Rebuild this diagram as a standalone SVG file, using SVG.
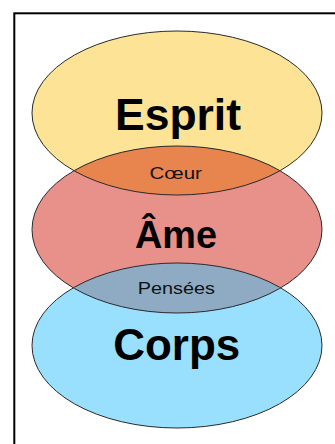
<svg xmlns="http://www.w3.org/2000/svg" width="335" height="444" viewBox="0 0 335 444">
<style>
.big{font-family:"Liberation Sans",Arial,Helvetica,sans-serif;font-weight:bold;font-size:44px;fill:#000;text-anchor:middle}
.small{font-family:"Liberation Sans",Arial,Helvetica,sans-serif;font-size:17px;fill:#111;text-anchor:middle}
.outline{fill:none;stroke:#2a2a2a;stroke-width:1}
</style>
<defs>
<clipPath id="clipEsprit"><ellipse cx="177" cy="113" rx="145" ry="82"/></clipPath>
<clipPath id="clipCorps"><ellipse cx="177" cy="345.5" rx="145" ry="82.5"/></clipPath>
</defs>
<rect x="14.3" y="13.3" width="340" height="450" fill="#fff" stroke="#000" stroke-width="2"/>
<g id="esprit">
<ellipse cx="177" cy="113" rx="145" ry="82" fill="#FCE396"/>
</g>
<g id="ame">
<ellipse cx="177" cy="229.5" rx="145" ry="83.5" fill="#E8908A"/>
</g>
<g id="corps">
<ellipse cx="177" cy="345.5" rx="145" ry="82.5" fill="#99E0FF"/>
</g>
<g id="coeur">
<ellipse cx="177" cy="229.5" rx="145" ry="83.5" fill="#E8854F" clip-path="url(#clipEsprit)"/>
</g>
<g id="pensees">
<ellipse cx="177" cy="229.5" rx="145" ry="83.5" fill="#8EABC3" clip-path="url(#clipCorps)"/>
</g>
<g id="outlines">
<ellipse class="outline" cx="177" cy="113" rx="145" ry="82"/>
<ellipse class="outline" cx="177" cy="229.5" rx="145" ry="83.5"/>
<ellipse class="outline" cx="177" cy="345.5" rx="145" ry="82.5"/>
</g>
<g id="labels">
<text class="big" x="178" y="129.5" textLength="126" lengthAdjust="spacingAndGlyphs">Esprit</text>
<text class="big" x="176" y="248" font-size="39" style="font-size:39px" textLength="82" lengthAdjust="spacingAndGlyphs">Âme</text>
<text class="big" x="176.7" y="359.5" textLength="127" lengthAdjust="spacingAndGlyphs">Corps</text>
<text class="small" x="175.7" y="179.3" textLength="52.5" lengthAdjust="spacingAndGlyphs">Cœur</text>
<text class="small" x="176.3" y="294.3" textLength="77.3" lengthAdjust="spacingAndGlyphs">Pensées</text>
</g>
</svg>
